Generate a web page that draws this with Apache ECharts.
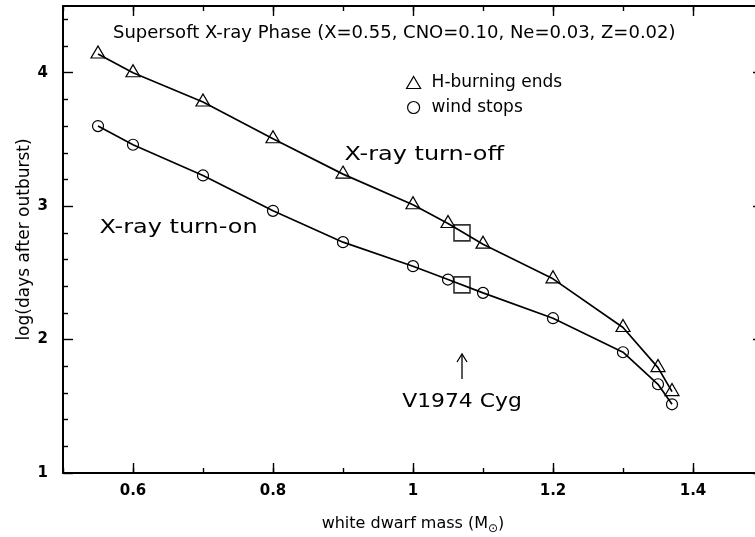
<!DOCTYPE html>
<html>
<head>
<meta charset="utf-8">
<script src="https://cdn.jsdelivr.net/npm/echarts@6/dist/echarts.min.js"></script>
<style>
  html, body { margin: 0; padding: 0; background: #fff; }
  #chart { width: 755px; height: 537px; }
</style>
</head>
<body>
<div id="chart"></div>
<script>
// White dwarf masses (solar units) of the model sequence
const masses = [0.55, 0.6, 0.7, 0.8, 0.9, 1.0, 1.05, 1.1, 1.2, 1.3, 1.35, 1.37];
// log(days after outburst) when hydrogen burning ends (X-ray turn-off)
const hBurningEnds = [4.14, 4.00, 3.78, 3.505, 3.24, 3.01, 2.87, 2.715, 2.455, 2.09, 1.79, 1.61];
// log(days after outburst) when the optically thick wind stops (X-ray turn-on)
const windStops = [3.60, 3.46, 3.23, 2.965, 2.73, 2.55, 2.45, 2.35, 2.16, 1.905, 1.665, 1.515];
// V1974 Cyg estimate
const v1974Mass = 1.07;
const v1974Values = [2.80, 2.41];

// Axis ticks
const xLabelTicks = [0.6, 0.8, 1.0, 1.2, 1.4];
const xMinorTicks = [0.5, 0.6, 0.7, 0.8, 0.9, 1.0, 1.1, 1.2, 1.3, 1.4, 1.5];
const yLabelTicks = [1, 2, 3, 4];
const yMinorTicks = [1.2, 1.4, 1.6, 1.8, 2.2, 2.4, 2.6, 2.8, 3.2, 3.4, 3.6, 3.8, 4.2, 4.4];

const FONT = '"DejaVu Sans", sans-serif';
const X_RANGE = [0.5, 1.5];
const Y_RANGE = [1, 4.5];

function xAxisOf(position, ticks, len, major, labels) {
  return {
    type: 'value', position, min: X_RANGE[0], max: X_RANGE[1],
    axisLine: { show: major, onZero: false, lineStyle: { color: '#000', width: 2 } },
    axisTick: { show: true, inside: true, length: len, customValues: ticks,
                lineStyle: { color: '#000', width: 1.4 } },
    axisLabel: { show: labels, customValues: xLabelTicks, margin: 11,
                 color: '#000', fontFamily: FONT, fontWeight: 'bold', fontSize: 15 },
    splitLine: { show: false },
    name: labels ? 'white dwarf mass (M{sub|⊙})' : '',
    nameLocation: 'middle', nameGap: 40,
    nameTextStyle: {
      color: '#000', fontFamily: FONT, fontSize: 16,
      rich: { sub: { fontFamily: FONT, fontSize: 12, color: '#000', padding: [10, 0, 0, 0] } }
    }
  };
}

function yAxisOf(position, ticks, len, major, labels) {
  return {
    type: 'value', position, min: Y_RANGE[0], max: Y_RANGE[1],
    axisLine: { show: major, onZero: false, lineStyle: { color: '#000', width: 2 } },
    axisTick: { show: true, inside: true, length: len, customValues: ticks,
                lineStyle: { color: '#000', width: 1.4 } },
    axisLabel: { show: labels, customValues: yLabelTicks, margin: 15,
                 color: '#000', fontFamily: FONT, fontWeight: 'bold', fontSize: 15 },
    splitLine: { show: false },
    name: labels ? 'log(days after outburst)' : '',
    nameLocation: 'middle', nameGap: 30, nameRotate: 90, nameMoveOverlap: false,
    nameTextStyle: { color: '#000', fontFamily: FONT, fontSize: 17 }
  };
}

const hollow = { color: 'rgba(0,0,0,0)', borderColor: '#000', borderWidth: 1.2 };

const chart = echarts.init(document.getElementById('chart'), null, { renderer: 'canvas' });

chart.setOption({
  animation: false,
  backgroundColor: '#fff',
  title: {
    text: 'Supersoft X-ray Phase (X=0.55, CNO=0.10, Ne=0.03, Z=0.02)',
    left: 113, top: 24, padding: 0,
    textStyle: { color: '#000', fontFamily: FONT, fontSize: 18, fontWeight: 'normal' }
  },
  legend: {
    orient: 'vertical', left: 406, top: 74, padding: 0,
    itemWidth: 14, itemHeight: 12, itemGap: 8,
    data: [{ name: 'H-burning ends', icon: 'triangle' }, { name: 'wind stops', icon: 'circle' }],
    itemStyle: hollow,
    textStyle: { color: '#000', fontFamily: FONT, fontSize: 17, padding: [0, 0, 0, 6] },
    selectedMode: false
  },
  grid: { left: 63, top: 6, width: 700, height: 467, outerBoundsMode: 'none' },
  xAxis: [
    xAxisOf('bottom', xLabelTicks, 10, true, true),
    xAxisOf('bottom', xMinorTicks, 5, false, false),
    xAxisOf('top', xLabelTicks, 10, true, false),
    xAxisOf('top', xMinorTicks, 5, false, false)
  ],
  yAxis: [
    yAxisOf('left', yLabelTicks, 10, true, true),
    yAxisOf('left', yMinorTicks, 5, false, false),
    yAxisOf('right', yLabelTicks, 10, true, false),
    yAxisOf('right', yMinorTicks, 5, false, false)
  ],
  series: [
    {
      name: 'H-burning ends', type: 'line',
      data: masses.map((m, i) => [m, hBurningEnds[i]]),
      symbol: 'triangle', symbolSize: [14, 12], symbolOffset: [0, -2],
      itemStyle: hollow, lineStyle: { color: '#000', width: 1.7 }
    },
    {
      name: 'wind stops', type: 'line',
      data: masses.map((m, i) => [m, windStops[i]]),
      symbol: 'circle', symbolSize: 11,
      itemStyle: hollow, lineStyle: { color: '#000', width: 1.7 }
    },
    {
      name: 'V1974 Cyg', type: 'scatter',
      data: v1974Values.map(v => [v1974Mass, v]),
      symbol: 'rect', symbolSize: 16,
      itemStyle: { color: 'rgba(0,0,0,0)', borderColor: '#000', borderWidth: 1.6 },
      z: 5
    }
  ]
});

// Annotations placed in data coordinates
const toPx = (x, y) => chart.convertToPixel({ xAxisIndex: 0, yAxisIndex: 0 }, [x, y]);
function note(text, x, y, align, stretch) {
  const p = toPx(x, y);
  return {
    type: 'text', x: p[0], y: p[1], scaleX: stretch,
    style: { text, fill: '#000', fontFamily: FONT, fontSize: 19,
             align: align, verticalAlign: 'middle' }
  };
}
const tip = toPx(v1974Mass, 1.892);
const tail = toPx(v1974Mass, 1.705);
chart.setOption({
  graphic: [
    note('X-ray turn-off', 0.902, 3.384, 'left', 1.26),
    note('X-ray turn-on', 0.552, 2.837, 'left', 1.26),
    note('V1974 Cyg', v1974Mass, 1.532, 'center', 1.15),
    { type: 'polyline', shape: { points: [tail, tip] },
      style: { stroke: '#000', lineWidth: 1.3, fill: null } },
    { type: 'polyline',
      shape: { points: [[tip[0] - 5, tip[1] + 8], tip, [tip[0] + 5, tip[1] + 8]] },
      style: { stroke: '#000', lineWidth: 1.3, fill: null } }
  ]
});
</script>
</body>
</html>
